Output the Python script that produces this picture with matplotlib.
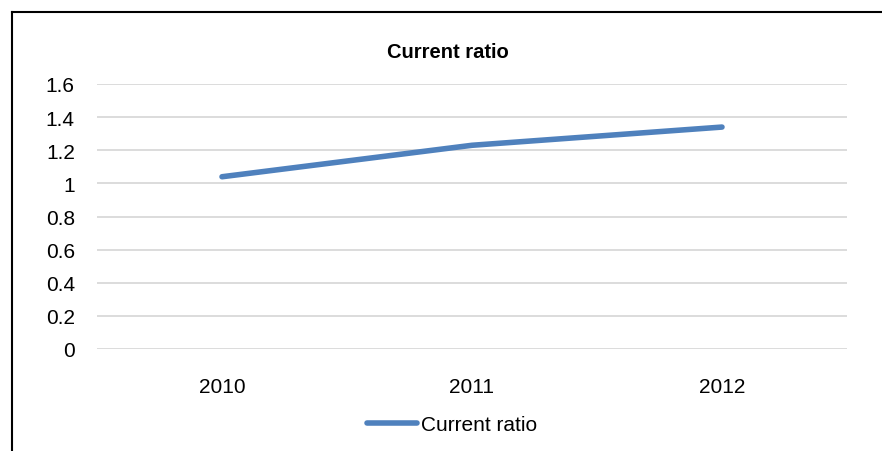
import matplotlib
matplotlib.use("Agg")
import matplotlib.pyplot as plt
from matplotlib.lines import Line2D

plt.rcParams['font.family'] = ['Liberation Sans', 'DejaVu Sans']

# data
years = ['2010', '2011', '2012']
current_ratio = [1.04, 1.23, 1.34]
y_ticks = [0, 0.2, 0.4, 0.6, 0.8, 1, 1.2, 1.4, 1.6]
y_labels = ['0', '0.2', '0.4', '0.6', '0.8', '1', '1.2', '1.4', '1.6']

W, H = 882, 452
fig = plt.figure(figsize=(W / 100, H / 100), dpi=100)
ax = fig.add_axes([97 / W, (H - 350) / H, 750 / W, 265 / H])

x = range(len(years))
ax.plot(x, current_ratio, color='#4F81BD', lw=4.0, solid_capstyle='round',
        label='Current ratio')

ax.set_xlim(-0.5, len(years) - 0.5)
ax.set_ylim(0, 1.6)
ax.set_yticks(y_ticks)
ax.set_yticklabels(y_labels)
ax.set_xticks(list(x))
ax.set_xticklabels(years)
ax.grid(axis='y', color='#D9D9D9', lw=1.3)
ax.set_axisbelow(True)
for s in ax.spines.values():
    s.set_visible(False)
ax.tick_params(axis='both', length=0, labelsize=15, colors='#000000')
ax.tick_params(axis='x', pad=20.5)
ax.tick_params(axis='y', pad=16)

fig.text(448 / W, 1 - 52 / H, 'Current ratio', ha='center', va='center',
         fontsize=14.5, fontweight='bold')

fig.legend(loc='center', bbox_to_anchor=(452 / W, 1 - 426 / H), frameon=False,
           fontsize=15, handlelength=2.4, handletextpad=0.2)

# outer border (chart is cropped on right/bottom)
fig.add_artist(Line2D([11.5 / W, 11.5 / W], [0, 1 - 13 / H], transform=fig.transFigure,
                      color='black', lw=1.5))
fig.add_artist(Line2D([11.5 / W, 1], [1 - 13 / H, 1 - 13 / H], transform=fig.transFigure,
                      color='black', lw=1.5))

fig.savefig('out.png', dpi=100)
